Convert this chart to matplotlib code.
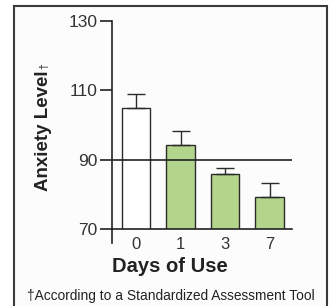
import matplotlib
matplotlib.use("Agg")
import matplotlib.pyplot as plt
from matplotlib.patches import Rectangle

# --- data ---
days = ["0", "1", "3", "7"]
anxiety = [104.8, 94.3, 86.0, 79.3]
err_up = [4.1, 4.0, 1.6, 4.1]
bar_colors = ["white", "#b3d48b", "#b3d48b", "#b3d48b"]
y_ticks = [70, 90, 110, 130]

W, H = 333, 306
fig = plt.figure(figsize=(W / 100, H / 100), dpi=100)
fig.patch.set_facecolor("white")

# outer frame (behind the axes)
frame = Rectangle((14 / W, -0.05), 313 / W, 1 - 6 / H + 0.05,
                  transform=fig.transFigure, fill=True, zorder=-10,
                  facecolor="#fcfcfc", edgecolor="#3a3a3a", lw=1.5)
fig.patches.append(frame)

ax = fig.add_axes([112 / W, 1 - 229 / H, 180 / W, 208 / H])
ax.patch.set_alpha(0)
x = range(len(days))
ax.bar(x, anxiety, width=0.64, bottom=0, color=bar_colors,
       edgecolor="#2b2b2b", lw=1.0, zorder=2)
ax.errorbar(x, anxiety, yerr=[[0] * 4, err_up], fmt="none",
            ecolor="#2b2b2b", elinewidth=1.0, capsize=6.5, capthick=1.0, zorder=3)
ax.axhline(90, color="#222222", lw=1.2, zorder=4)

xl = (-0.54, 3.505)
ax.set_xlim(*xl)
ax.set_ylim(70, 130)
ax.plot([xl[0], xl[0]], [66, 70], color="#222222", lw=1.2, clip_on=False)

for s in ["top", "right"]:
    ax.spines[s].set_visible(False)
for s in ["left", "bottom"]:
    ax.spines[s].set_linewidth(1.2)
    ax.spines[s].set_color("#222222")
    ax.spines[s].set_zorder(5)

ax.set_yticks(y_ticks)
ax.set_yticklabels([str(v) for v in y_ticks])
ax.set_xticks(list(x))
ax.set_xticklabels(days)
ax.tick_params(axis="y", length=8.6, width=1.2, color="#222222", pad=2,
               labelsize=12.5, labelcolor="#333333")
ax.tick_params(axis="x", length=0, pad=6, labelsize=12, labelcolor="#333333")
for lab in ax.get_yticklabels() + ax.get_xticklabels():
    lab.set_family("Liberation Sans")

fig.text(43 / W, 1 - 131 / H, "Anxiety Level", rotation=90, ha="center",
         va="center", family="Liberation Sans", weight="bold", fontsize=13.5,
         color="#222222")
fig.text(44 / W, 1 - 66 / H, "†", rotation=90, ha="center", va="center",
         family="Liberation Sans", fontsize=7.5, color="#222222")
fig.text(170 / W, 1 - 267 / H, "Days of Use", ha="center", va="center",
         family="Liberation Sans", weight="bold", fontsize=14.5, color="#222222")
fig.text(171 / W, 1 - 296 / H, "†According to a Standardized Assessment Tool",
         ha="center", va="center", family="Liberation Sans", fontsize=9.9,
         color="#222222")

fig.savefig("out.png", dpi=100)
